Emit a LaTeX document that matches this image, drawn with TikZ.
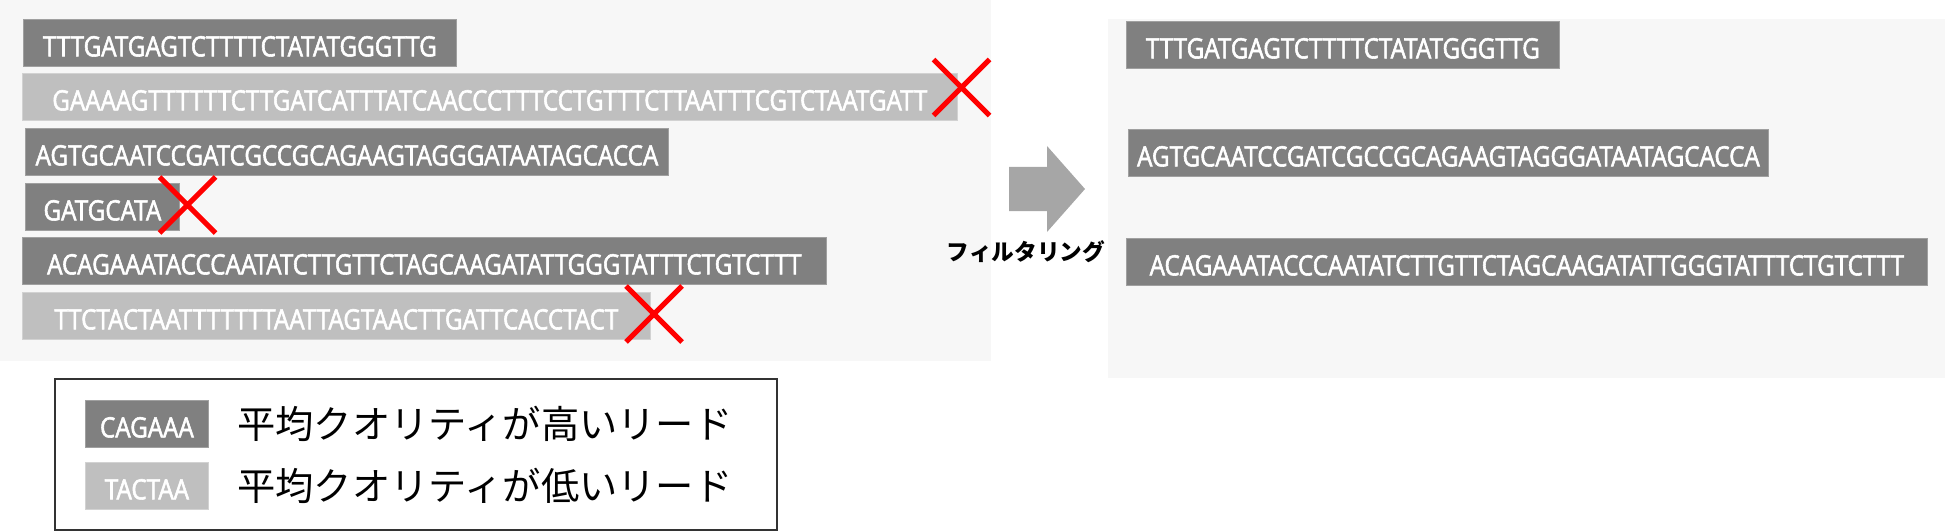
\documentclass[tikz,border=0pt]{standalone}
\usepackage{fontspec}
\newfontfamily\seqfont[FakeStretch=0.865,FakeBold=2]{Open Sans}
\newfontfamily\jpfont{Noto Sans CJK JP}
\definecolor{readdark}{RGB}{128, 128, 128}
\definecolor{readlight}{RGB}{191, 191, 191}
\definecolor{panelgray}{RGB}{247, 247, 247}
\definecolor{arrowgray}{RGB}{166, 166, 166}
\definecolor{crossred}{RGB}{255, 0, 0}
\usetikzlibrary{shapes.misc, positioning}

\tikzset{
  readbox/.style={anchor=north west, inner sep=0pt, minimum width=#1*0.75pt, minimum height=35.25pt,
    text=white, text height=20.2pt, text depth=0pt, font=\seqfont\fontsize{21}{25}\selectfont},
  readhi/.style={readbox=#1, fill=readdark, draw=readdark!75!white, line width=0.6pt},
  readlo/.style={readbox=#1, fill=readlight, draw=readlight!70!white, line width=0.6pt},
  dropmark/.style={cross out, draw=crossred, line width=3.75pt, minimum size=38.25pt, inner sep=0pt},
}

\begin{document}
\begin{tikzpicture}[x=0.75pt, y=-0.75pt]
  \useasboundingbox (0,0) rectangle (1945,531);

  % Panels
  \fill[panelgray] (0,0) rectangle (991,361);
  \fill[panelgray] (1108,19) rectangle (1945,378);

  % Reads before filtering
  \node[readhi=433] (r1) at (23,19) {TTTGATGAGTCTTTTCTATATGGGTTG};
  \node[readlo=935] (r2) at (22,73) {GAAAAGTTTTTTCTTGATCATTTATCAACCCTTTCCTGTTTCTTAATTTCGTCTAATGATT};
  \node[readhi=643] (r3) at (25,128) {AGTGCAATCCGATCGCCGCAGAAGTAGGGATAATAGCACCA};
  \node[readhi=154] (r4) at (25,183) {GATGCATA};
  \node[readhi=804] (r5) at (22,237) {ACAGAAATACCCAATATCTTGTTCTAGCAAGATATTGGGTATTTCTGTCTTT};
  \node[readlo=628] (r6) at (22,292) {TTCTACTAATTTTTTTAATTAGTAACTTGATTCACCTACT};

  % Removed reads
  \node[dropmark] (x2) at (961.5,87.5) {};
  \node[dropmark] (x4) at (187.5,205) {};
  \node[dropmark] (x6) at (654,314) {};

  % Filtering step
  \fill[arrowgray] (1009,167) -- (1047,167) -- (1047,146) -- (1085,189) -- (1047,232) -- (1047,211) -- (1009,211) -- cycle;
  \node[font=\jpfont\bfseries\fontsize{17}{20}\selectfont, inner sep=0pt] (filterlabel) at (1026,252) {フィルタリング};

  % Reads after filtering
  \node[readhi=433] (k1) at (1126,21) {TTTGATGAGTCTTTTCTATATGGGTTG};
  \node[readhi=640] (k2) at (1128,129) {AGTGCAATCCGATCGCCGCAGAAGTAGGGATAATAGCACCA};
  \node[readhi=801] (k3) at (1126,238) {ACAGAAATACCCAATATCTTGTTCTAGCAAGATATTGGGTATTTCTGTCTTT};

  % Legend
  \draw[black!80, line width=1.5pt] (55,379) rectangle (777,530);
  \node[readhi=123] (hikey) at (85,400) {CAGAAA};
  \node[readlo=123] (lokey) at (85,462) {TACTAA};
  \node[anchor=west, inner sep=0pt, font=\jpfont\fontsize{28.7}{34}\selectfont] (hilabel) at (237,424) {平均クオリティが高いリード};
  \node[anchor=west, inner sep=0pt, font=\jpfont\fontsize{28.7}{34}\selectfont] (lolabel) at (237,486) {平均クオリティが低いリード};
\end{tikzpicture}
\end{document}
